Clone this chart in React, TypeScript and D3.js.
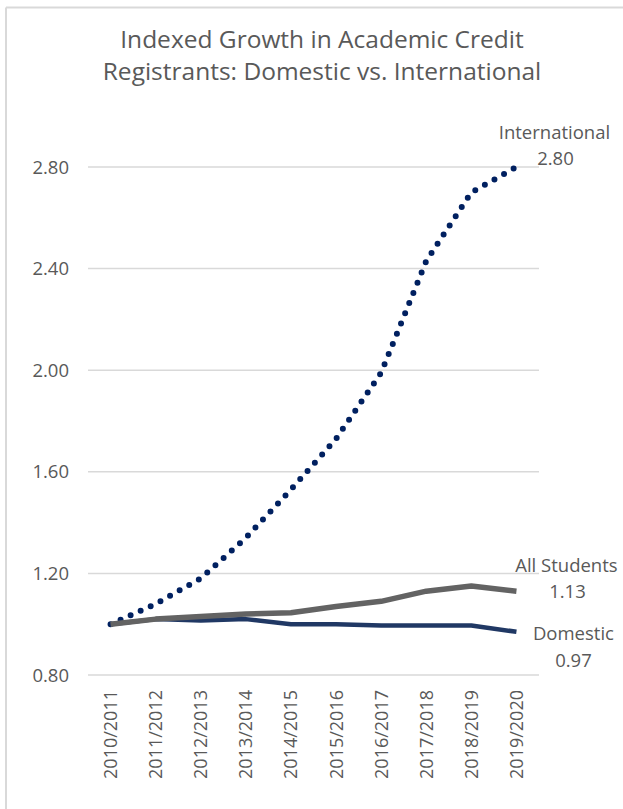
import React from "react";
import * as d3 from "d3";

const categories = ["2010/2011","2011/2012","2012/2013","2013/2014","2014/2015","2015/2016","2016/2017","2017/2018","2018/2019","2019/2020"];
const international = [1.00, 1.08, 1.18, 1.34, 1.53, 1.73, 1.99, 2.43, 2.70, 2.80];
const allStudents = [1.00, 1.02, 1.03, 1.04, 1.045, 1.07, 1.09, 1.13, 1.15, 1.13];
const domestic = [1.00, 1.02, 1.015, 1.02, 1.00, 1.00, 0.995, 0.995, 0.995, 0.97];
const yTicks = [0.8, 1.2, 1.6, 2.0, 2.4, 2.8];
const titleLines = ["Indexed Growth in Academic Credit", "Registrants: Domestic vs. International"];

const FONT = "'Open Sans', sans-serif";
const GRAY = "#595959";

export default function App() {
  const W = 623, H = 809;
  const x = d3.scalePoint<string>().domain(categories).range([88, 539]).padding(0.5);
  const y = d3.scaleLinear().domain([0.8, 2.8]).range([675, 167]);
  const line = d3.line<number>().x((_, i) => x(categories[i]) as number).y(d => y(d));
  const lastX = x(categories[categories.length - 1]) as number;
  const lab = 18.5;

  return (
    <svg width={W} height={H} style={{ position: "absolute", left: 0, top: 0, background: "#fff" }}>
      <rect x={0} y={0} width={W} height={H} fill="#fff" />
      <line x1={6} y1={7.5} x2={W} y2={7.5} stroke="#d9d9d9" strokeWidth={2} />
      <line x1={6} y1={7.5} x2={6} y2={H} stroke="#d9d9d9" strokeWidth={2} />
      {titleLines.map((t, i) => (
        <text key={i} x={322} y={48 + i * 32} textAnchor="middle" fontFamily={FONT} fontSize={24.5} fill={GRAY}>{t}</text>
      ))}
      {yTicks.map(t => (
        <g key={t}>
          <line x1={88} x2={539} y1={y(t)} y2={y(t)} stroke="#d9d9d9" strokeWidth={1.5} />
          <text x={69} y={y(t) + 6.5} textAnchor="end" fontFamily={FONT} fontSize={18.5} fill={GRAY}>{t.toFixed(2)}</text>
        </g>
      ))}
      {categories.map(c => (
        <text key={c} transform={`translate(${(x(c) as number) + 6.5},690) rotate(-90)`} textAnchor="end" fontFamily={FONT} fontSize={18} fill={GRAY}>{c}</text>
      ))}
      <path d={line(international) || ""} fill="none" stroke="#002060" strokeWidth={6} strokeLinecap="round" strokeDasharray="0 11" />
      <path d={line(domestic) || ""} fill="none" stroke="#203864" strokeWidth={4.5} strokeLinejoin="round" />
      <path d={line(allStudents) || ""} fill="none" stroke="#636363" strokeWidth={5.5} strokeLinejoin="round" />
      <text x={lastX + 38} y={139} textAnchor="middle" fontFamily={FONT} fontSize={lab} fill={GRAY}>International</text>
      <text x={lastX + 39} y={165} textAnchor="middle" fontFamily={FONT} fontSize={lab} fill={GRAY}>{international[9].toFixed(2)}</text>
      <text x={lastX + 50} y={572} textAnchor="middle" fontFamily={FONT} fontSize={lab} fill={GRAY}>All Students</text>
      <text x={lastX + 51} y={598} textAnchor="middle" fontFamily={FONT} fontSize={lab} fill={GRAY}>{allStudents[9].toFixed(2)}</text>
      <text x={lastX + 57} y={640} textAnchor="middle" fontFamily={FONT} fontSize={lab} fill={GRAY}>Domestic</text>
      <text x={lastX + 57} y={667} textAnchor="middle" fontFamily={FONT} fontSize={lab} fill={GRAY}>{domestic[9].toFixed(2)}</text>
    </svg>
  );
}
